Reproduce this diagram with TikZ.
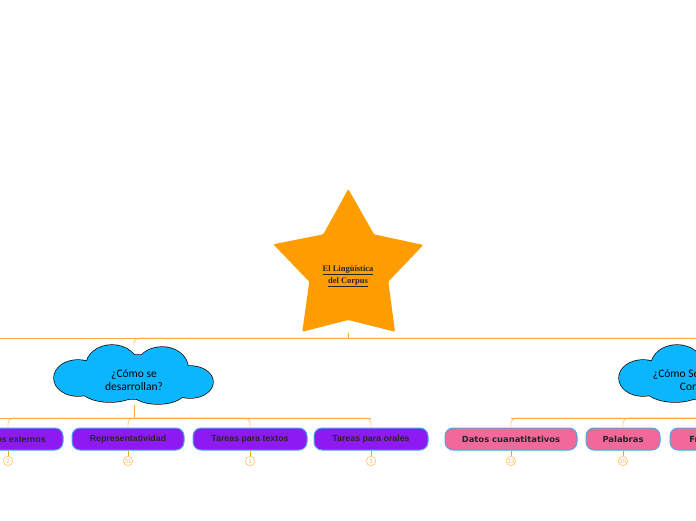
\documentclass[tikz,border=0pt]{standalone}
\usepackage{fontspec}
\setmainfont{Liberation Sans}
\newfontfamily\arialb{Liberation Sans}
\newfontfamily\verdb{DejaVu Sans}
\newfontfamily\cloudfont{Carlito}
\newfontfamily\starfont{Liberation Serif}
\usetikzlibrary{shapes.geometric}
\definecolor{starorange}{RGB}{255,157,0}
\definecolor{mainline}{RGB}{255,172,60}
\definecolor{branchline}{RGB}{255,205,140}
\definecolor{stubline}{RGB}{255,160,20}
\definecolor{circline}{RGB}{255,200,120}
\definecolor{circtext}{RGB}{250,185,95}
\definecolor{cloudblue}{RGB}{12,182,255}
\definecolor{purplebox}{RGB}{142,26,242}
\definecolor{pinkbox}{RGB}{242,104,152}
\definecolor{boxborder}{RGB}{80,165,230}
\tikzset{
  mainln/.style={draw=mainline, line width=0.9pt},
  branchln/.style={draw=branchline, line width=0.9pt, rounded corners=5pt},
  stubln/.style={draw=stubline, line width=1pt},
  cloudnode/.style={rectangle, minimum width=159pt, minimum height=59pt, inner sep=0pt,
    align=center, font=\cloudfont\fontsize{11.5}{13}\selectfont},
  pbox/.style={rectangle, rounded corners=8pt, fill=purplebox, draw=boxborder, line width=1pt,
    minimum height=22pt, inner sep=0pt, font=\arialb\bfseries\fontsize{8.8}{10}\selectfont, text=black!85},
  kbox/.style={rectangle, rounded corners=8pt, fill=pinkbox, draw=boxborder, line width=1pt,
    minimum height=22pt, inner sep=0pt, font=\verdb\bfseries\fontsize{8.4}{10}\selectfont, text=black!85},
  numcirc/.style={circle, draw=circline, line width=0.7pt, fill=white, minimum size=9.5pt, inner sep=0pt,
    font=\fontsize{6}{6}\selectfont, text=circtext},
}
\newcommand{\cloudtext}[2]{\raisebox{-15pt}[0pt][0pt]{\makebox[50pt]{\shortstack{#1\\#2}}}}
% cloud outline: union of ellipses (stroke first, then fill over)
\newcommand{\cloudpuffs}[1]{%
  \path[#1] (-22,-9) ellipse [x radius=26, y radius=21];
  \path[#1] (28,-7) ellipse [x radius=26, y radius=21];
  \path[#1] (-56,3) ellipse [x radius=24, y radius=18];
  \path[#1] (56,7) ellipse [x radius=23, y radius=16];
  \path[#1] (-24,13) ellipse [x radius=30, y radius=14];
  \path[#1] (24,15) ellipse [x radius=28, y radius=14];
  \path[#1] (0,2) ellipse [x radius=55, y radius=22];}
\newcommand{\drawcloud}[2]{%
  \begin{scope}[shift={(#1,#2)}]
  \cloudpuffs{draw=black, line width=1.4pt}
  \cloudpuffs{fill=cloudblue}
  \end{scope}}
\begin{document}
\begin{tikzpicture}[x=1pt,y=-1pt]
\useasboundingbox (0,0) rectangle (696,520);
% star
\fill[starorange, rounded corners=1.2pt] (348.3,189) -- (374,234.3) -- (423.3,245) -- (388.3,281.7)
  -- (395,331.7) -- (348.3,320) -- (302.3,331.7) -- (309.3,281.7) -- (273.3,244.3) -- (323.3,234.3) -- cycle;
\node[align=center, font=\starfont\bfseries\fontsize{8.5}{12}\selectfont, text=black!85] (star) at (348,276)
  {\underline{El Lingüística}\\\underline{del Corpus}};
\coordinate (starbase) at (348,332.5);
\coordinate (j0) at (348,338);
\coordinate (L0) at (0,338);
\coordinate (R0) at (696,338);

% clouds
\drawcloud{134}{375}
\drawcloud{699}{375}
\node[cloudnode] (c1) at (134,375) {\cloudtext{¿Cómo se}{desarrollan?}};
\node[cloudnode] (c2) at (699,375) {\cloudtext{¿Cómo Se analiza el}{Corpus?}};

% level 2 junctions
\coordinate (j1) at (134,418);
\coordinate (j2) at (699,418);
\coordinate (L1) at (0,418);
\coordinate (R1) at (696,418);

% boxes
\node[pbox, minimum width=110pt] (b1) at (8,439) {Criterios externos};
\node[pbox, minimum width=112pt] (b2) at (128,439) {Representatividad};
\node[pbox, minimum width=114pt] (b3) at (250,439) {Tareas para textos};
\node[pbox, minimum width=114pt] (b4) at (371,439) {Tareas para orales};
\node[kbox, minimum width=132pt] (b5) at (511,439) {Datos cuanatitativos};
\node[kbox, minimum width=74pt] (b6) at (623,439) {Palabras};
\node[kbox, minimum width=90pt] (b7) at (715,439) {Frecuencia};

% branch connectors
\draw[branchln] (j0) -| (c1.north);
\draw[branchln] (j0) -| (c2.north);
\draw[mainln] (L0) -- (R0);
\draw[mainln] (starbase) -- (j0);

\draw[mainln] (c1.south) -- (j1);
\draw[mainln] (c2.south) -- (j2);
\foreach \b in {b1,b2,b3,b4}{\draw[branchln] (j1) -| (\b.north);}
\foreach \b in {b5,b6,b7}{\draw[branchln] (j2) -| (\b.north);}
\draw[mainln] (L1) -- (b4.north |- j1);
\draw[mainln] (b5.north |- j2) -- (R1);

% number circles
\node[numcirc] (n1) at (8,461) {2};
\node[numcirc] (n2) at (128,461) {31};
\node[numcirc] (n3) at (250,461) {1};
\node[numcirc] (n4) at (371,461) {3};
\node[numcirc] (n5) at (511,461) {13};
\node[numcirc] (n6) at (623,461) {15};
\foreach \b/\n in {b1/n1,b2/n2,b3/n3,b4/n4,b5/n5,b6/n6}{\draw[stubln] (\b.south) -- (\n.north);}
\end{tikzpicture}
\end{document}
